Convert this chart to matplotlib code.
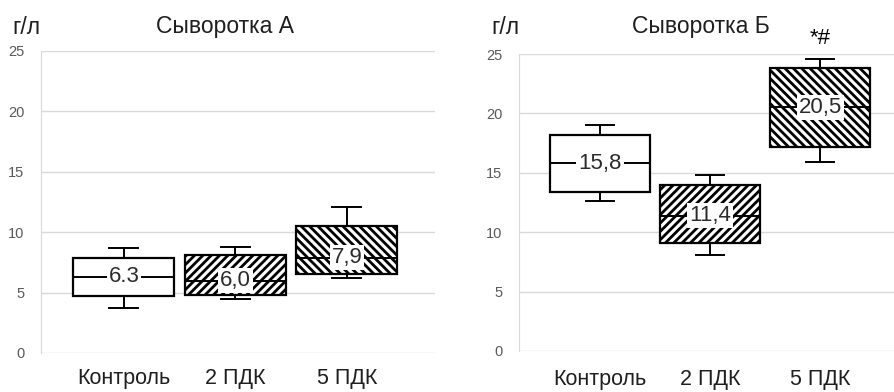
import matplotlib
matplotlib.use("Agg")
from matplotlib import pyplot as plt

plt.rcParams['font.family'] = ['Liberation Sans', 'DejaVu Sans']
plt.rcParams['hatch.linewidth'] = 2.0

groups = ["Контроль", "2 ПДК", "5 ПДК"]
hatches = [None, "////", "\\\\\\\\"]

# сыворотка А: min, q1, median, q3, max
a_lo = [3.7, 4.5, 6.2]
a_q1 = [4.7, 4.8, 6.5]
a_med = [6.3, 6.0, 7.9]
a_q3 = [7.9, 8.1, 10.5]
a_hi = [8.7, 8.8, 12.1]
a_lbl = ["6.3", "6,0", "7,9"]

# сыворотка Б
b_lo = [12.6, 8.1, 15.9]
b_q1 = [13.4, 9.1, 17.2]
b_med = [15.8, 11.4, 20.5]
b_q3 = [18.2, 14.0, 23.8]
b_hi = [19.0, 14.8, 24.6]
b_lbl = ["15,8", "11,4", "20,5"]

fig = plt.figure(figsize=(8.95, 3.92), dpi=100)
axA = fig.add_axes([41/895, 39/392, 394/895, 302/392])
axB = fig.add_axes([519/895, 41/392, 376/895, 297/392])


def panel(ax, lo, q1, med, q3, hi, lbl, xlim):
    stats = []
    for i in range(3):
        stats.append(dict(whislo=lo[i], q1=q1[i], med=med[i], q3=q3[i], whishi=hi[i]))
    bp = ax.bxp(stats, positions=[0, 1, 2], widths=0.905, capwidths=0.26,
                patch_artist=True, showfliers=False,
                boxprops=dict(facecolor="white", edgecolor="black", linewidth=1.6),
                whiskerprops=dict(color="black", linewidth=1.4),
                capprops=dict(color="black", linewidth=1.4),
                medianprops=dict(color="black", linewidth=1.4))
    for box, h in zip(bp["boxes"], hatches):
        if h:
            box.set_hatch(h)
        box.set_zorder(3)
    for m in bp["medians"]:
        m.set_zorder(4)
    for i in range(3):
        ax.text(i, med[i], lbl[i], ha="center", va="center", fontsize=16,
                color="#2b2b2b", zorder=5,
                bbox=dict(facecolor="white", edgecolor="none", pad=1.5))
    ax.set_xlim(*xlim)
    ax.set_ylim(0, 25)
    ax.set_yticks([0, 5, 10, 15, 20, 25])
    ax.set_xticks([0, 1, 2])
    ax.set_xticklabels(groups, fontsize=15.5, color="#1f1f1f")
    ax.tick_params(axis="y", length=0, pad=12, labelsize=10.5, labelcolor="#595959")
    ax.tick_params(axis="x", length=0, pad=11)
    ax.grid(axis="y", color="#d9d9d9", linewidth=1)
    ax.set_axisbelow(True)
    for s in ["top", "right", "bottom"]:
        ax.spines[s].set_visible(False)
    ax.spines["left"].set_color("#d9d9d9")


panel(axA, a_lo, a_q1, a_med, a_q3, a_hi, a_lbl, (-0.744, 2.79))
panel(axB, b_lo, b_q1, b_med, b_q3, b_hi, b_lbl, (-0.736, 2.68))
axB.tick_params(axis="x", pad=13)

axB.text(2, 26.3, "*#", ha="center", va="center", fontsize=16, color="black",
         clip_on=False)

fig.text(225/895, 1 - 27/392, "Сыворотка А", ha="center", va="center", fontsize=16.5, color="#1f1f1f")
fig.text(26/895, 1 - 27/392, "г/л", ha="center", va="center", fontsize=16.5, color="#1f1f1f")
fig.text(701/895, 1 - 27/392, "Сыворотка Б", ha="center", va="center", fontsize=16.5, color="#1f1f1f")
fig.text(505/895, 1 - 27/392, "г/л", ha="center", va="center", fontsize=16.5, color="#1f1f1f")

fig.savefig("out.png", dpi=100)
